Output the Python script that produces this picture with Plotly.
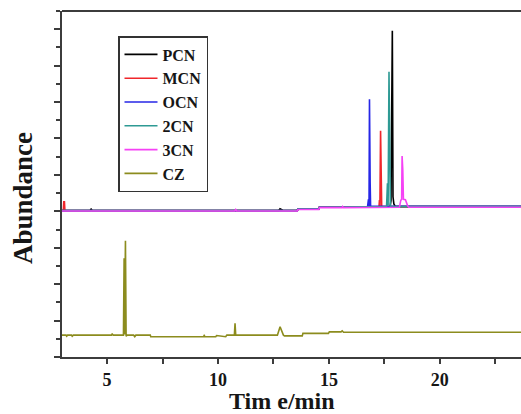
import plotly.graph_objects as go

# ---- data (time in min, abundance in arbitrary offset units) ----
pcn_t = [2.97, 4.24, 4.28, 4.33, 12.74, 12.8, 12.92, 13.58, 13.6, 14.55, 14.57, 16.74, 16.76, 17.76, 17.8, 17.83, 17.86, 17.89, 17.93, 18.0, 23.8]
pcn_y = [4.02, 4.02, 4.07, 4.02, 4.02, 4.07, 4.03, 4.02, 4.06, 4.06, 4.11, 4.11, 4.13, 4.13, 4.3, 8.55, 8.96, 4.4, 4.2, 4.13, 4.13]

mcn_t = [2.97, 3.03, 3.05, 3.08, 3.1, 13.58, 13.6, 14.55, 14.57, 16.74, 16.76, 17.26, 17.28, 17.3, 17.33, 17.36, 17.38, 23.8]
mcn_y = [4.02, 4.02, 4.26, 4.26, 4.02, 4.02, 4.06, 4.06, 4.11, 4.11, 4.13, 4.13, 4.31, 4.13, 6.21, 4.68, 4.13, 4.13]

ocn_t = [2.97, 13.58, 13.6, 14.55, 14.57, 16.74, 16.78, 16.8, 16.81, 16.83, 16.86, 16.88, 23.8]
ocn_y = [4.02, 4.02, 4.06, 4.06, 4.11, 4.11, 4.31, 4.31, 4.13, 7.08, 4.79, 4.14, 4.14]

cn2_t = [2.97, 13.58, 13.6, 14.55, 14.57, 16.74, 16.76, 17.6, 17.64, 17.67, 17.71, 17.74, 17.77, 23.8]
cn2_y = [4.02, 4.02, 4.06, 4.06, 4.11, 4.11, 4.13, 4.13, 4.77, 4.15, 7.83, 5.9, 4.13, 4.13]

cn3_t = [2.97, 10.76, 10.8, 10.84, 13.58, 13.6, 14.55, 14.57, 15.6, 15.62, 15.66, 16.74, 16.76, 18.18, 18.24, 18.28, 18.3, 18.33, 18.36, 18.45, 18.55, 18.6, 23.8]
cn3_y = [4.01, 4.01, 4.05, 4.01, 4.01, 4.05, 4.05, 4.1, 4.1, 4.13, 4.1, 4.1, 4.11, 4.11, 4.3, 4.33, 5.52, 5.15, 4.33, 4.32, 4.15, 4.11, 4.11]

cz_t = [2.97, 3.15, 3.18, 3.22, 3.4, 3.43, 3.48, 5.2, 5.23, 5.28, 5.74, 5.77, 5.79, 5.83, 5.86, 5.9, 6.2, 6.25, 6.3, 6.95, 6.97, 9.35, 9.38, 9.42, 9.9, 9.94, 10.35, 10.4, 10.74, 10.77, 10.8, 12.68, 12.8, 12.95, 13.0, 13.8, 13.83, 14.98, 15.02, 15.55, 15.6, 15.66, 23.8]
cz_y = [0.6, 0.6, 0.57, 0.6, 0.6, 0.57, 0.6, 0.6, 0.63, 0.6, 0.6, 2.71, 0.62, 3.19, 0.57, 0.6, 0.6, 0.56, 0.6, 0.6, 0.557, 0.557, 0.59, 0.557, 0.557, 0.59, 0.557, 0.6, 0.6, 0.925, 0.6, 0.6, 0.83, 0.6, 0.58, 0.58, 0.65, 0.65, 0.69, 0.69, 0.72, 0.68, 0.68]

names = ["PCN", "MCN", "OCN", "2CN", "3CN", "CZ"]
colors = ["#000000", "#f0262b", "#2626e6", "#2e9a94", "#f542f5", "#8c8c1e"]
series_t = [pcn_t, mcn_t, ocn_t, cn2_t, cn3_t, cz_t]
series_y = [pcn_y, mcn_y, ocn_y, cn2_y, cn3_y, cz_y]

x_ticks = [5, 10, 15, 20]
x_tick_labels = ["5", "10", "15", "20"]

fig = go.Figure()
for n, c, t, y in zip(names, colors, series_t, series_y):
    fig.add_trace(go.Scatter(x=t, y=y, mode="lines", name=n,
                             line=dict(color=c, width=1.6)))

serif = "Liberation Serif"
axis_col = "#3c3c3c"
txt_col = "#161616"

L, T, W, H = 62, 11, 459, 346


def px(xp):
    return (xp - L) / W


def py(yp):
    return (T + H - yp) / H


fig.update_layout(
    width=521, height=414,
    margin=dict(l=L, r=521 - L - W, t=T, b=414 - T - H),
    paper_bgcolor="white", plot_bgcolor="white",
    showlegend=True,
    legend=dict(x=px(118), y=py(36), xanchor="left", yanchor="top",
                bgcolor="white", bordercolor="#333333", borderwidth=1.5,
                font=dict(family=serif, size=16, color=txt_col, weight="bold"),
                itemwidth=33, tracegroupgap=0),
    xaxis=dict(range=[2.97, 23.66], showgrid=False, zeroline=False,
               showline=True, linecolor=axis_col, linewidth=2,
               ticks="outside", ticklen=5, tickwidth=1.5, tickcolor=axis_col,
               tickvals=x_ticks, ticktext=x_tick_labels,
               tickfont=dict(family=serif, size=18, color=txt_col, weight="bold"),
               minor=dict(dtick=2.5, tick0=0, ticks="outside", ticklen=5, tickwidth=1.5, tickcolor=axis_col)),
    yaxis=dict(range=[0, 9.5], showgrid=False, zeroline=False,
               showline=True, linecolor=axis_col, linewidth=2,
               ticks="outside", ticklen=6, tickwidth=1.5, tickcolor=axis_col,
               tickmode="linear", tick0=0, dtick=1, showticklabels=False,
               minor=dict(dtick=0.5, tick0=0, ticks="outside", ticklen=4, tickwidth=1.5, tickcolor=axis_col)),
)

# axis titles
fig.add_annotation(text="Tim e/min", xref="paper", yref="paper", x=px(282), y=py(401),
                   xanchor="center", yanchor="middle", showarrow=False,
                   font=dict(family=serif, size=24, color=txt_col, weight="bold"))
fig.add_annotation(text="Abundance", xref="paper", yref="paper", x=px(23), y=py(198),
                   xanchor="center", yanchor="middle", showarrow=False, textangle=-90,
                   font=dict(family=serif, size=27, color=txt_col, weight="bold"))

# top frame line
fig.add_shape(type="line", xref="paper", yref="paper", x0=0, x1=1, y0=1, y1=1,
              line=dict(color=axis_col, width=2))

fig.write_html("out.html")
